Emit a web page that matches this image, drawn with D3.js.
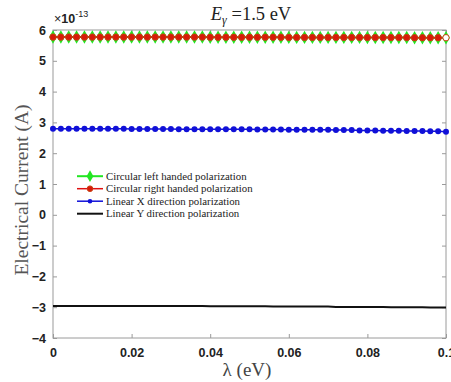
<!DOCTYPE html>
<html><head><meta charset="utf-8">
<script src="https://cdn.jsdelivr.net/npm/d3@7"></script>
<style>body{margin:0;background:#fff}svg{display:block}</style>
</head><body>
<script>
// ---- data (current values in units of 1e-13 A) ----
const lambdas = [0,0.002,0.004,0.006,0.008,0.010,0.012,0.014,0.016,0.018,
  0.020,0.022,0.024,0.026,0.028,0.030,0.032,0.034,0.036,0.038,
  0.040,0.042,0.044,0.046,0.048,0.050,0.052,0.054,0.056,0.058,
  0.060,0.062,0.064,0.066,0.068,0.070,0.072,0.074,0.076,0.078,
  0.080,0.082,0.084,0.086,0.088,0.090,0.092,0.094,0.096,0.098,0.100];
const circLeft = [5.77,5.77,5.77,5.77,5.77,5.77,5.77,5.77,5.77,5.77,
  5.77,5.77,5.77,5.77,5.77,5.77,5.77,5.77,5.77,5.77,
  5.765,5.765,5.765,5.765,5.765,5.765,5.765,5.765,5.765,5.765,
  5.76,5.76,5.76,5.76,5.76,5.76,5.76,5.76,5.76,5.76,
  5.755,5.755,5.755,5.755,5.755,5.755,5.75,5.75,5.75,5.75,5.75];
const circRight = [5.77,5.77,5.77,5.77,5.77,5.77,5.77,5.77,5.77,5.77,
  5.77,5.77,5.77,5.77,5.77,5.77,5.77,5.77,5.77,5.77,
  5.765,5.765,5.765,5.765,5.765,5.765,5.765,5.765,5.765,5.765,
  5.76,5.76,5.76,5.76,5.76,5.76,5.76,5.76,5.76,5.76,
  5.755,5.755,5.755,5.755,5.755,5.755,5.75,5.75,5.75,5.75,5.75];
const linX = [2.79,2.79,2.79,2.79,2.79,2.79,2.79,2.79,2.79,2.79,
  2.785,2.785,2.785,2.785,2.785,2.785,2.78,2.78,2.78,2.78,
  2.78,2.78,2.775,2.775,2.775,2.775,2.77,2.77,2.77,2.77,
  2.765,2.765,2.765,2.76,2.76,2.76,2.75,2.75,2.75,2.74,
  2.74,2.74,2.73,2.73,2.73,2.72,2.72,2.72,2.71,2.71,2.70];
const linY = [-2.96,-2.96,-2.96,-2.96,-2.96,-2.96,-2.96,-2.96,-2.96,-2.96,
  -2.965,-2.965,-2.965,-2.965,-2.965,-2.965,-2.965,-2.965,-2.965,-2.965,
  -2.97,-2.97,-2.97,-2.97,-2.97,-2.97,-2.97,-2.97,
  -2.98,-2.98,-2.98,-2.98,-2.98,-2.98,-2.98,-2.98,
  -2.99,-2.99,-2.99,-2.99,-2.99,-2.99,-2.99,
  -3.00,-3.00,-3.00,-3.00,-3.00,-3.01,-3.01,-3.01];
const xTicks = [0, 0.02, 0.04, 0.06, 0.08, 0.1];
const xTickLabels = ["0", "0.02", "0.04", "0.06", "0.08", "0.1"];
const yTicks = [-4, -3, -2, -1, 0, 1, 2, 3, 4, 5, 6];
const seriesNames = ["Circular left handed polarization", "Circular right handed polarization",
  "Linear X direction polarization", "Linear Y direction polarization"];
const seriesColors = ["#22e622", "#e01010", "#1010d8", "#111111"];

const W = 451, H = 382;
const m = {l: 53, r: 5, t: 30, b: 44};
const svg = d3.select("body").append("svg").attr("width", W).attr("height", H);
const x = d3.scaleLinear().domain([0, 0.1]).range([m.l, W - m.r]);
const y = d3.scaleLinear().domain([-4, 6]).range([H - m.b, m.t]);
const axisColor = "#9a9a9a";

// frame
svg.append("rect").attr("x", m.l).attr("y", m.t).attr("width", x(0.1) - m.l).attr("height", y(-4) - m.t)
  .attr("fill", "none").attr("stroke", axisColor).attr("stroke-width", 1);

function styleAxis(g, hide) {
  g.select(".domain").remove();
  g.selectAll(".tick line").attr("stroke", axisColor);
  g.selectAll("text").attr("font-family", "Liberation Sans, Arial, sans-serif").attr("font-weight", "bold")
    .attr("font-size", 12.5).attr("fill", "#222");
  if (hide) g.selectAll("text").remove();
}
svg.append("g").attr("transform", `translate(0,${y(-4)})`)
  .call(d3.axisBottom(x).tickValues(xTicks).tickFormat((d, i) => xTickLabels[i]).tickSizeInner(-4).tickSizeOuter(0).tickPadding(10))
  .call(g => styleAxis(g, false));
svg.append("g").attr("transform", `translate(0,${m.t})`)
  .call(d3.axisTop(x).tickValues(xTicks).tickSizeInner(-4).tickSizeOuter(0))
  .call(g => styleAxis(g, true));
svg.append("g").attr("transform", `translate(${m.l},0)`)
  .call(d3.axisLeft(y).tickValues(yTicks).tickFormat(d3.format("d")).tickSizeInner(-4).tickSizeOuter(0).tickPadding(7))
  .call(g => styleAxis(g, false));
svg.append("g").attr("transform", `translate(${x(0.1)},0)`)
  .call(d3.axisRight(y).tickValues(yTicks).tickSizeInner(-4).tickSizeOuter(0))
  .call(g => styleAxis(g, true));

const line = d3.line().x((d, i) => x(lambdas[i])).y(d => y(d));

// green left-handed
svg.append("path").datum(circLeft).attr("d", line).attr("fill", "none").attr("stroke", seriesColors[0]).attr("stroke-width", 2);
svg.append("g").selectAll("path").data(circLeft).join("path")
  .attr("transform", (d, i) => `translate(${x(lambdas[i])},${y(d)})`)
  .attr("d", d3.symbol(d3.symbolDiamond, 52)).attr("fill", seriesColors[0]);
// red right-handed
svg.append("path").datum(circRight).attr("d", line).attr("fill", "none").attr("stroke", seriesColors[1]).attr("stroke-width", 1.5);
svg.append("g").selectAll("circle").data(circRight).join("circle")
  .attr("cx", (d, i) => x(lambdas[i])).attr("cy", d => y(d)).attr("r", 3.2)
  .attr("fill", (d, i) => i === circRight.length - 1 ? "#fff" : "#d81a0a").attr("stroke", "#c84010").attr("stroke-width", 1);
// blue linear X
svg.append("path").datum(linX).attr("d", line).attr("fill", "none").attr("stroke", seriesColors[2]).attr("stroke-width", 1.5);
svg.append("g").selectAll("circle").data(linX).join("circle")
  .attr("cx", (d, i) => x(lambdas[i])).attr("cy", d => y(d)).attr("r", 3)
  .attr("fill", seriesColors[2]);
// black linear Y
svg.append("path").datum(linY).attr("d", line).attr("fill", "none").attr("stroke", seriesColors[3]).attr("stroke-width", 2);

// legend
const lg = svg.append("g").attr("transform", "translate(77,176.2)");
seriesNames.forEach((name, i) => {
  const gy = i * 12.5;
  lg.append("line").attr("x1", 0).attr("x2", 26).attr("y1", gy).attr("y2", gy)
    .attr("stroke", seriesColors[i]).attr("stroke-width", i === 0 || i === 3 ? 2 : 1.5);
  if (i === 0) lg.append("path").attr("transform", `translate(13,${gy})`).attr("d", d3.symbol(d3.symbolDiamond, 40)).attr("fill", seriesColors[0]);
  if (i === 1) lg.append("circle").attr("cx", 13).attr("cy", gy).attr("r", 2.8).attr("fill", "#d81a0a").attr("stroke", "#c84010");
  if (i === 2) lg.append("circle").attr("cx", 13).attr("cy", gy).attr("r", 2.3).attr("fill", seriesColors[2]);
  lg.append("text").attr("x", 29).attr("y", gy + 3.8).text(name)
    .attr("font-family", "Liberation Serif, serif").attr("font-size", 10.8).attr("fill", "#222");
});

// title
const t = svg.append("text").attr("x", 251).attr("y", 20).attr("text-anchor", "middle")
  .attr("font-family", "Liberation Serif, serif").attr("font-size", 18.5).attr("fill", "#222");
t.append("tspan").attr("font-style", "italic").text("E");
t.append("tspan").attr("font-style", "italic").attr("font-size", 12).attr("dy", 4).text("γ");
t.append("tspan").attr("dy", -4).text(" =1.5 eV");

// exponent
const ex = svg.append("text").attr("x", 54).attr("y", 23).attr("font-family", "Liberation Sans, Arial, sans-serif")
  .attr("font-size", 12.5).attr("fill", "#222");
ex.append("tspan").text("×");
ex.append("tspan").attr("font-weight", "bold").text("10");
ex.append("tspan").attr("font-size", 9).attr("dy", -6).text("-13");

// axis labels
svg.append("text").attr("x", 247).attr("y", 376).attr("text-anchor", "middle")
  .attr("font-family", "Liberation Serif, serif").attr("font-size", 19).attr("fill", "#444")
  .text("λ (eV)");
svg.append("text").attr("transform", `translate(28,190) rotate(-90)`).attr("text-anchor", "middle")
  .attr("font-family", "Liberation Serif, serif").attr("font-size", 19.5).attr("fill", "#555")
  .text("Electrical Current (A)");
</script>
</body></html>
